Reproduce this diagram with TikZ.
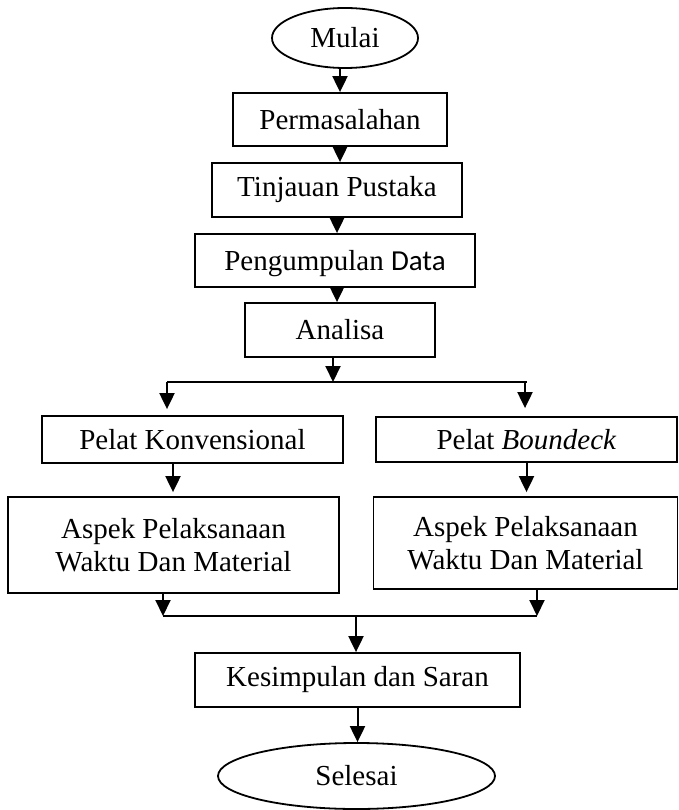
\documentclass[tikz,border=0pt]{standalone}
\usepackage{fontspec}
\setmainfont{Liberation Serif}
\newfontfamily\datafont{Carlito}
\usetikzlibrary{shapes.geometric,arrows.meta}

\tikzset{
  box/.style={draw,line width=1.8pt,rectangle,inner sep=0pt,align=center},
  oval/.style={draw,line width=1.8pt,ellipse,inner sep=0pt},
  arr/.style={line width=2pt,-{Triangle[length=16pt,width=15pt]}},
  link/.style={line width=2pt}
}

\begin{document}
\begin{tikzpicture}[x=1pt,y=-1pt,font=\fontsize{29}{33}\selectfont]
\useasboundingbox (0,0) rectangle (679,810);
% start and main column
\node[oval,minimum width=146pt,minimum height=60pt] (mulai) at (345,38) {Mulai};
\node[box,minimum width=214pt,minimum height=53pt] (masalah) at (340,119.5) {Permasalahan};
\node[box,minimum width=250pt,minimum height=54pt] (tinjauan) at (337,190) {Tinjauan Pustaka};
\node[box,minimum width=280pt,minimum height=53pt,text depth=0pt] (data) at (335,260.5) {Pengumpulan {\datafont Data}};
\node[box,minimum width=190pt,minimum height=54pt] (analisa) at (340,330) {Analisa};
% two branches
\node[box,minimum width=301pt,minimum height=47pt,text depth=0pt] (konv) at (192.5,439.5) {Pelat Konvensional};
\node[box,minimum width=301pt,minimum height=45pt,text depth=0pt] (bound) at (526.5,439.5) {Pelat \textit{Boundeck}};
\node[box,minimum width=331pt,minimum height=96pt] (aspekA) at (173.5,545) {Aspek Pelaksanaan\\Waktu Dan Material};
\node[box,minimum width=304pt,minimum height=92pt] (aspekB) at (525.5,543) {Aspek Pelaksanaan\\Waktu Dan Material};
% end
\node[box,minimum width=325pt,minimum height=54pt] (simpul) at (357.5,680) {Kesimpulan dan Saran};
\node[oval,minimum width=277pt,minimum height=66pt] (selesai) at (356.5,776) {Selesai};

\coordinate (split) at (333,382);
\coordinate (splitL) at (167,382);
\coordinate (splitR) at (525,382);
\coordinate (join) at (356,616);
\coordinate (joinL) at (163,616);
\coordinate (joinR) at (537,616);

\draw[arr] (mulai.south -| masalah.north) -- (masalah.north);
\draw[arr] (masalah.south) -- (masalah.south |- tinjauan.north);
\draw[arr] (tinjauan.south) -- (tinjauan.south |- data.north);
\draw[arr] (tinjauan.south |- data.south) -- (tinjauan.south |- analisa.north);
\draw[arr] (split |- analisa.south) -- (split);
\draw[link] (splitL) -- (527,382);
\draw[arr,shorten >=6pt] (splitL) -- (splitL |- konv.north);
\draw[arr,shorten >=8pt] (splitR) -- (splitR |- bound.north);
\draw[arr,shorten >=4pt] (173,463) -- (173,497 |- aspekA.north);
\draw[arr,shorten >=4pt] (bound.south) -- (bound.south |- aspekB.north);
\draw[arr] (joinL |- aspekA.south) -- (joinL);
\draw[arr] (joinR |- aspekB.south) -- (joinR);
\draw[link] (joinL) -- (joinR);
\draw[arr] (join) -- (join |- simpul.north);
\draw[arr] (simpul.south) -- (simpul.south |- selesai.north);
\end{tikzpicture}
\end{document}
